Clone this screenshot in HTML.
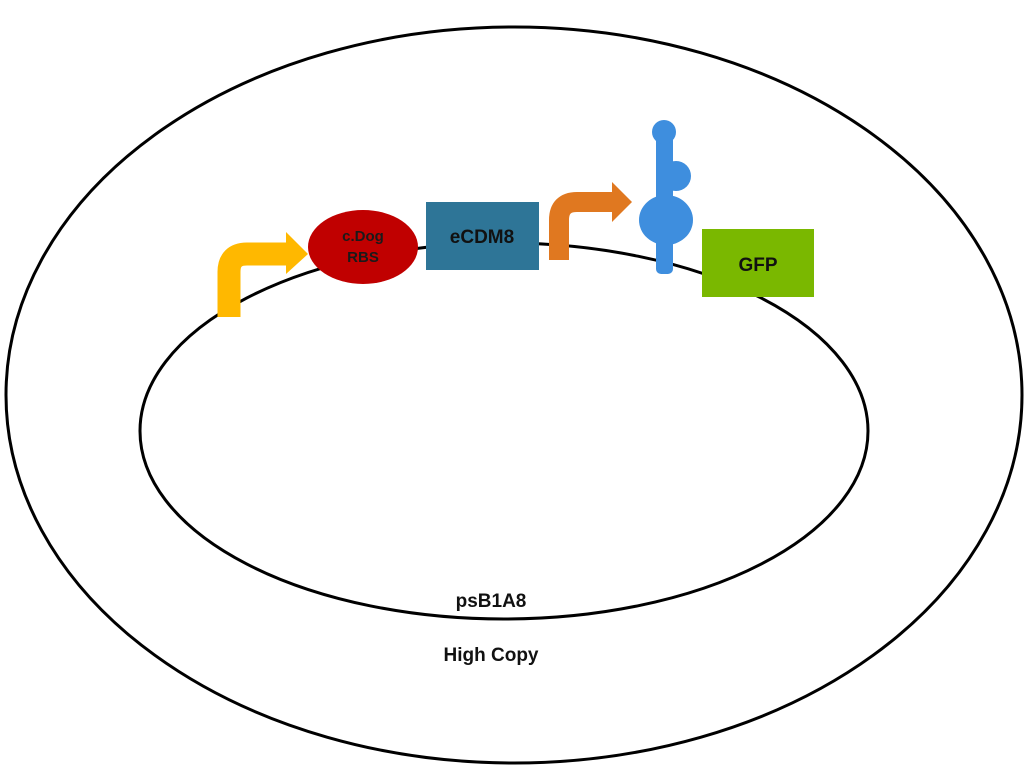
<!DOCTYPE html>
<html><head><meta charset="utf-8"><style>
html,body{margin:0;padding:0;background:#fff;width:1024px;height:768px;overflow:hidden}
svg{display:block}
text{font-family:"Liberation Sans",sans-serif;font-weight:bold}
</style></head><body>
<svg width="1024" height="768" viewBox="0 0 1024 768">
<ellipse cx="514" cy="395" rx="508" ry="368" fill="none" stroke="#000" stroke-width="3"/>
<ellipse cx="504" cy="431" rx="364" ry="188" fill="none" stroke="#000" stroke-width="3"/>
<!-- yellow promoter -->
<path d="M229 317 V272 Q229 254 247 254 H290" fill="none" stroke="#FFB800" stroke-width="23"/>
<polygon points="286,232 308,254 286,274" fill="#FFB800"/>
<!-- RBS -->
<ellipse cx="363" cy="247" rx="55" ry="37" fill="#C00000"/>
<text x="363" y="241" font-size="15" text-anchor="middle" fill="#1a1a1a">c.Dog</text>
<text x="363" y="262" font-size="15" text-anchor="middle" fill="#1a1a1a">RBS</text>
<!-- eCDM8 -->
<rect x="426" y="202" width="113" height="68" fill="#2E7597"/>
<text x="482" y="243" font-size="19" text-anchor="middle" fill="#111">eCDM8</text>
<!-- orange promoter -->
<path d="M559 260 V220 Q559 202 577 202 H614" fill="none" stroke="#E07820" stroke-width="20"/>
<polygon points="612,182 632,202 612,222" fill="#E07820"/>
<!-- terminator -->
<rect x="656" y="132" width="17" height="142" rx="5" fill="#3E8EDE"/>
<circle cx="664" cy="132" r="12" fill="#3E8EDE"/>
<circle cx="676" cy="176" r="15" fill="#3E8EDE"/>
<ellipse cx="666" cy="220" rx="27" ry="25" fill="#3E8EDE"/>
<!-- GFP -->
<rect x="702" y="229" width="112" height="68" fill="#7AB800"/>
<text x="758" y="271" font-size="19" text-anchor="middle" fill="#111">GFP</text>
<text x="491" y="607" font-size="19" text-anchor="middle" fill="#111">psB1A8</text>
<text x="491" y="661" font-size="19" text-anchor="middle" fill="#111">High Copy</text>
</svg>
</body></html>
